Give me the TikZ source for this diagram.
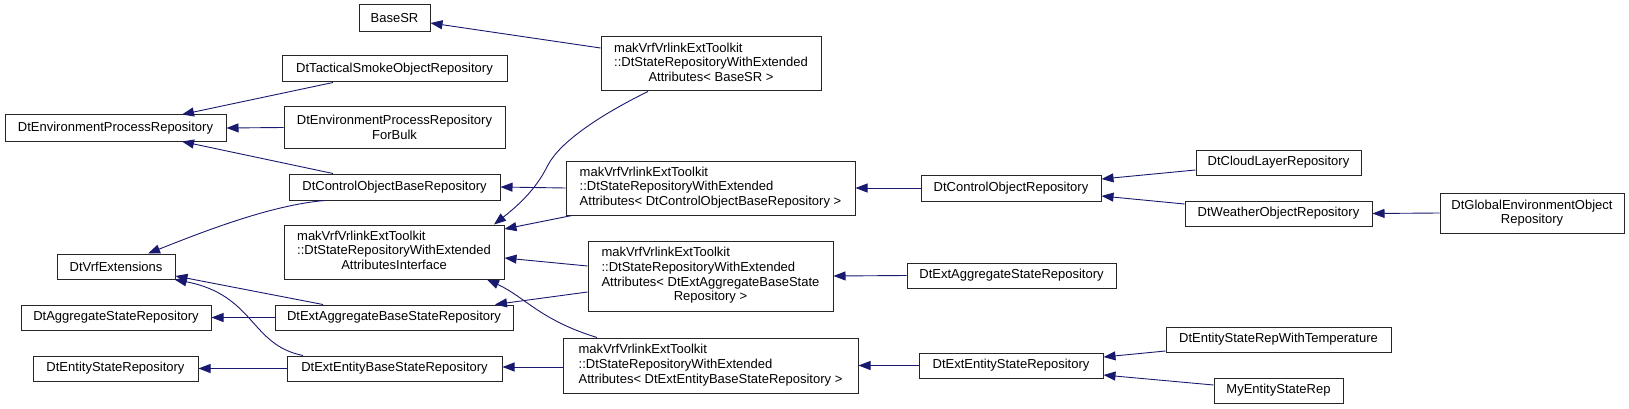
\documentclass[tikz,border=0pt]{standalone}
\usepackage{fontspec}
\setmainfont{Liberation Sans}
\usetikzlibrary{arrows.meta,calc}
\definecolor{edgeblue}{HTML}{191970}
\newcommand\nodefont{\fontsize{13pt}{14.7pt}\selectfont}
\newcommand\lblock[1]{\begin{tabular}[b]{@{}l@{}}#1\end{tabular}}
\newcommand\cblock[1]{\begin{tabular}{@{}c@{}}#1\end{tabular}}
\newcommand\lbox[1]{\begin{tabular}{@{}l@{}}#1\end{tabular}}
\tikzset{
  cls/.style 2 args={draw=black!85, line width=1pt, fill=white, inner sep=0pt,
    font=\nodefont, align=center, minimum width=#1pt, minimum height=#2pt},
  inh/.style={draw=edgeblue, line width=0.9pt, {Triangle[length=12pt,width=9pt]}-}
}
\begin{document}
\begin{tikzpicture}[x=1pt,y=-1pt]
\fill[white] (0,0) rectangle (1629,409);
\useasboundingbox (0,0) rectangle (1629,409);
% rank 1
\node[cls={221}{26}] (envproc) at (115.5,128) {DtEnvironmentProcessRepository};
\node[cls={118}{25}] (dtvrfext) at (116,266.5) {DtVrfExtensions};
\node[cls={190}{25}] (dtaggstate) at (116,317.5) {DtAggregateStateRepository};
\node[cls={165}{25}] (dtentstate) at (115.5,368.5) {DtEntityStateRepository};
% rank 2
\node[cls={71}{27}] (basesr) at (394.5,18.5) {BaseSR};
\node[cls={225}{26}] (tactical) at (394.5,69) {DtTacticalSmokeObjectRepository};
\node[cls={221}{41}] (forbulk) at (394.5,127.5) {DtEnvironmentProcessRepository\\ForBulk};
\node[cls={211}{26}] (ctrlbase) at (394.5,187) {DtControlObjectBaseRepository};
\node[cls={220}{54}] (interface) at (394,252) {\cblock{\lblock{makVrfVrlinkExtToolkit\\::DtStateRepositoryWithExtended}\\AttributesInterface}};
\node[cls={238}{25}] (extaggbase) at (394,317.5) {DtExtAggregateBaseStateRepository};
\node[cls={215}{25}] (extentbase) at (394.5,368.5) {DtExtEntityBaseStateRepository};
% rank 3
\node[cls={220}{54}] (wbasesr) at (711,64) {\cblock{\lblock{makVrfVrlinkExtToolkit\\::DtStateRepositoryWithExtended}\\Attributes< BaseSR >}};
\node[cls={289}{54}] (wctrl) at (710.5,188) {\lbox{makVrfVrlinkExtToolkit\\::DtStateRepositoryWithExtended\\Attributes< DtControlObjectBaseRepository >}};
\node[cls={245}{70}] (wagg) at (710.5,276) {\cblock{\lblock{makVrfVrlinkExtToolkit\\::DtStateRepositoryWithExtended\\Attributes< DtExtAggregateBaseState}\\Repository >}};
\node[cls={295}{55}] (went) at (710.5,365.5) {\lbox{makVrfVrlinkExtToolkit\\::DtStateRepositoryWithExtended\\Attributes< DtExtEntityBaseStateRepository >}};
% rank 4
\node[cls={180}{26}] (ctrlobj) at (1011,188) {DtControlObjectRepository};
\node[cls={209}{25}] (extaggstate) at (1011.5,275.5) {DtExtAggregateStateRepository};
\node[cls={184}{25}] (extentstate) at (1011,365.5) {DtExtEntityStateRepository};
% rank 5
\node[cls={165}{25}] (cloud) at (1278.5,162.5) {DtCloudLayerRepository};
\node[cls={187}{25}] (weather) at (1278.5,213.5) {DtWeatherObjectRepository};
\node[cls={225}{25}] (temp) at (1278.5,339.5) {DtEntityStateRepWithTemperature};
\node[cls={129}{25}] (myent) at (1278.5,390.5) {MyEntityStateRep};
% rank 6
\node[cls={184}{40}] (globalenv) at (1532,213) {DtGlobalEnvironmentObject\\Repository};
% edges (arrow at base class)
\draw[inh] ($(basesr.east)+(0,4.5)$) -- ($(wbasesr.west)+(0,-16)$);
\draw[inh] ($(envproc.north)+(66.5,0)$) -- ($(tactical.south)+(-61.5,0)$);
\draw[inh] (envproc.east) -- (forbulk.west);
\draw[inh] ($(envproc.south)+(66.5,0)$) -- ($(ctrlbase.north)+(-61.5,0)$);
\draw[inh] (ctrlbase.east) -- (wctrl.west);
\draw[inh] ($(interface.north)+(100,0)$) .. controls (525,200) and (538,185) .. (548,165)
  .. controls (560,142) and (600,115) .. ($(wbasesr.south)+(-63,0)$);
\draw[inh] ($(interface.east)+(0,-23)$) -- ($(wctrl.south)+(-138.5,0)$);
\draw[inh] ($(interface.east)+(0,6)$) -- ($(wagg.west)+(0,-10)$);
\draw[inh] ($(interface.south)+(93,0)$) .. controls (525,297) and (540,320) .. ($(went.north)+(-113.5,0)$);
\draw[inh] ($(dtvrfext.north)+(32,0)$) .. controls (200,233) and (270,205) .. ($(ctrlbase.south)+(-69.5,0)$);
\draw[inh] ($(dtvrfext.east)+(0,9.5)$) -- ($(extaggbase.north)+(-71,0)$);
\draw[inh] ($(dtvrfext.south east)+(-1,0)$) .. controls (255,295) and (250,345) .. ($(extentbase.north)+(-91.5,0)$);
\draw[inh] (dtaggstate.east) -- (extaggbase.west);
\draw[inh] ($(extaggbase.north)+(101,0)$) -- ($(wagg.west)+(0,16)$);
\draw[inh] (dtentstate.east) -- (extentbase.west);
\draw[inh] ($(extentbase.east)+(0,-1.5)$) -- ($(went.west)+(0,1.5)$);
\draw[inh] (wctrl.east) -- (ctrlobj.west);
\draw[inh] (wagg.east) -- (extaggstate.west);
\draw[inh] (went.east) -- (extentstate.west);
\draw[inh] ($(ctrlobj.east)+(0,-9)$) -- ($(cloud.west)+(0,7.5)$);
\draw[inh] ($(ctrlobj.east)+(0,8)$) -- ($(weather.west)+(0,-9.5)$);
\draw[inh] (weather.east) -- (globalenv.west);
\draw[inh] ($(extentstate.east)+(0,-8.5)$) -- ($(temp.west)+(0,11.5)$);
\draw[inh] ($(extentstate.east)+(0,9.5)$) -- ($(myent.west)+(0,-5.5)$);
\end{tikzpicture}
\end{document}
